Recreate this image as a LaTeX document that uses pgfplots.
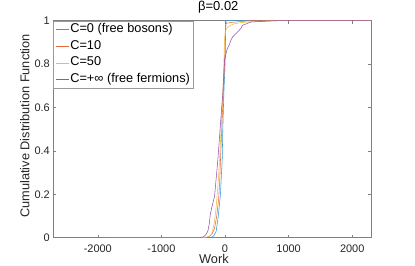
\documentclass[border=0pt]{standalone}
\usepackage{pgfplots}
\pgfplotsset{compat=1.18}
\usepackage{fontspec}
\setmainfont{Liberation Sans}
\definecolor{mblue}{rgb}{0.2,0.6,0.88}
\definecolor{morange}{rgb}{0.9,0.42,0.22}
\definecolor{myellow}{rgb}{0.96,0.74,0.25}
\definecolor{mpurple}{rgb}{0.6,0.32,0.7}
\definecolor{axgray}{rgb}{0.15,0.15,0.15}
\definecolor{boxgray}{rgb}{0.5,0.5,0.5}
\definecolor{leggray}{rgb}{0.6,0.6,0.6}
\begin{document}
\begin{tikzpicture}
\useasboundingbox (0,0) rectangle (415bp,266bp);
\begin{axis}[
  at={(53.3bp,28.3bp)}, anchor=south west,
  scale only axis, width=318bp, height=217bp,
  xmin=-2700, xmax=2300, ymin=0, ymax=1,
  xtick={-2000,-1000,0,1000,2000},
  xticklabels={-2000,-1000,0,1000,2000},
  ytick={0,0.2,0.4,0.6,0.8,1},
  yticklabels={0,0.2,0.4,0.6,0.8,1},
  tick align=inside, major tick length=3bp,
  axis line style={draw=boxgray, line width=0.6bp},
  tick style={draw=boxgray, line width=0.6bp},
  ticklabel style={font=\fontsize{11}{12}\selectfont, text=axgray},
  xticklabel style={yshift=-3.5bp},
  xlabel={Work},
  ylabel={Cumulative Distribution Function},
  xlabel style={at={(axis description cs:0.505,0)}, anchor=base, yshift=-25.6bp, font=\fontsize{12.8}{14}\selectfont, text=axgray},
  ylabel style={at={(axis description cs:-0.0755,0.5157)}, anchor=base, font=\fontsize{12.8}{14}\selectfont, text=axgray},
  title={β=0.02},
  title style={at={(axis description cs:0.5,1)}, anchor=base, yshift=4bp, xshift=6bp, font=\fontsize{13}{14}\selectfont},
  legend cell align=left,
  legend image code/.code={\draw[#1, line width=0.55bp] (0bp,0bp) -- (13bp,0bp);},
  legend style={at={(0,1)}, anchor=north west, draw=leggray, line width=0.5bp,
    font=\fontsize{12.8}{14}\selectfont, inner xsep=1.8bp, inner ysep=2bp, row sep=3.67bp,
    nodes={inner xsep=1.4bp, inner ysep=0.5bp, text height=9bp, text depth=3bp}},
  every axis plot/.append style={line width=0.55bp},
]
\addplot[mblue] coordinates {
(-1850,0) (-220,0) (-180,0.008) (-139,0.03) (-110,0.09) (-85,0.16) (-72,0.2) (-55,0.3) (-44,0.36) (-35,0.5) (-19,0.66) (-5,0.76) (3,0.82) (8,0.93) (12,0.98) (18,1) (2300,1)
};
\addlegendentry{C=0 (free bosons)}
\addplot[morange] coordinates {
(-1850,0) (-300,0) (-250,0.005) (-200,0.02) (-165,0.043) (-130,0.1) (-100,0.18) (-85,0.25) (-71,0.36) (-50,0.51) (-28,0.665) (-10,0.78) (-3,0.85) (2,0.94) (8,0.98) (20,0.988) (100,0.992) (200,0.995) (400,1) (2300,1)
};
\addlegendentry{C=10}
\addplot[myellow] coordinates {
(-1850,0) (-350,0) (-300,0.003) (-250,0.006) (-217,0.012) (-190,0.04) (-165,0.074) (-140,0.14) (-123,0.2) (-100,0.29) (-86,0.36) (-60,0.51) (-35,0.665) (-18,0.8) (-10,0.9) (0,0.935) (13,0.956) (40,0.97) (91,0.979) (150,0.986) (248,0.991) (400,0.995) (563,0.997) (825,1) (2300,1)
};
\addlegendentry{C=50}
\addplot[mpurple] coordinates {
(-1850,0) (-400,0) (-350,0.003) (-322,0.008) (-300,0.015) (-270,0.03) (-250,0.06) (-233,0.105) (-200,0.15) (-165,0.19) (-140,0.27) (-113,0.358) (-95,0.43) (-75,0.51) (-55,0.59) (-35,0.665) (-20,0.75) (-8,0.82) (10,0.84) (28,0.864) (50,0.88) (70,0.89) (91,0.91) (120,0.925) (170,0.94) (223,0.956) (250,0.965) (275,0.979) (330,0.985) (405,0.994) (600,0.997) (825,1) (2300,1)
};
\addlegendentry{C=+∞ (free fermions)}
\end{axis}
\end{tikzpicture}
\end{document}
